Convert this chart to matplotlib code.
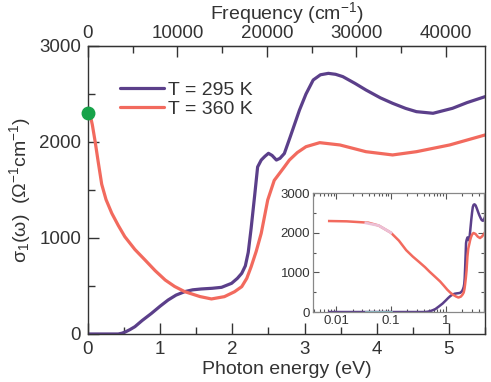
import numpy as np
import matplotlib
matplotlib.use("Agg")
import matplotlib.pyplot as plt
from matplotlib.ticker import MultipleLocator, FixedLocator, NullFormatter, LogLocator

plt.rcParams['font.family'] = ['Liberation Sans', 'DejaVu Sans']
plt.rcParams['mathtext.fontset'] = 'custom'
plt.rcParams['mathtext.rm'] = 'Liberation Sans'
plt.rcParams['mathtext.it'] = 'Liberation Sans'
plt.rcParams['mathtext.default'] = 'regular'
plt.rcParams['text.color'] = '#333333'
plt.rcParams['axes.labelcolor'] = '#333333'
plt.rcParams['xtick.labelcolor'] = '#333333'
plt.rcParams['ytick.labelcolor'] = '#333333'

# ---- data ----
e_360 = [0.0075, 0.0157, 0.039, 0.06, 0.1, 0.14, 0.19, 0.25, 0.33, 0.42, 0.51, 0.65, 0.79,
         0.93, 1.07, 1.2, 1.34, 1.55, 1.71, 1.89, 2.03, 2.13, 2.2, 2.26, 2.33, 2.40, 2.49,
         2.58, 2.72, 2.79, 2.9, 3.02, 3.21, 3.49, 3.85, 4.22, 4.55, 5.01, 5.5]
s_360 = [2294, 2286, 2252, 2180, 2000, 1800, 1560, 1400, 1257, 1130, 1014, 880, 771,
         660, 562, 495, 441, 390, 365, 389, 440, 493, 580, 700, 860, 1049, 1396,
         1600, 1740, 1812, 1890, 1951, 1993, 1969, 1899, 1865, 1899, 1969, 2073]

e_295 = [0.0075, 0.1, 0.42, 0.47, 0.52, 0.58, 0.65, 0.75, 0.88, 1.0, 1.11, 1.22, 1.34, 1.45, 1.57,
         1.72, 1.85, 1.99, 2.07, 2.13, 2.18, 2.22, 2.26, 2.31, 2.35, 2.40, 2.45, 2.50, 2.55,
         2.61, 2.66, 2.72, 2.80, 2.93, 3.02, 3.12, 3.22, 3.33, 3.43, 3.53, 3.70, 3.85, 4.05,
         4.22, 4.40, 4.55, 4.78, 5.05, 5.25, 5.5]
s_295 = [0, 0, 0, 8, 22, 45, 76, 140, 215, 290, 354, 405, 441, 460, 469,
         476, 486, 528, 580, 632, 710, 850, 1100, 1450, 1740, 1812, 1850, 1882, 1860,
         1812, 1830, 1880, 2050, 2333, 2500, 2646, 2700, 2715, 2705, 2681, 2610, 2542, 2460,
         2403, 2350, 2316, 2299, 2351, 2410, 2472]

# extrapolated low-energy stretch drawn in lighter colours in the inset
gap_e = [0.035, 0.06, 0.1]
gap_360 = [2245, 2180, 2000]
gap_295 = [0, 0, 0]

dc_sigma = 2300  # DC point

labels = ['T = 295 K', 'T = 360 K']
c295 = '#5b3f8a'
c360 = '#f26a5e'
EV_TO_CM = 8065.54

fig = plt.figure(figsize=(4.91, 3.82), dpi=100)
ax = fig.add_axes([0.1792, 0.1257, 0.8086, 0.7539])

ax.plot(e_295, s_295, color=c295, lw=2.3, label=labels[0], solid_capstyle='round')
ax.plot(e_360, s_360, color=c360, lw=2.3, label=labels[1], solid_capstyle='round')
ax.plot([0], [dc_sigma], 'o', color='#17a34a', ms=9, clip_on=False, zorder=5)

ax.set_xlim(0, 5.5)
ax.set_ylim(0, 3000)
ax.xaxis.set_major_locator(MultipleLocator(1))
ax.xaxis.set_minor_locator(MultipleLocator(0.5))
ax.yaxis.set_major_locator(MultipleLocator(1000))
ax.yaxis.set_minor_locator(MultipleLocator(500))
ax.tick_params(which='both', direction='in', labelsize=13.5, color='#333333', width=1,
               right=False, top=False)
ax.tick_params(which='major', length=8, pad=5)
ax.tick_params(which='minor', length=5)
for s in ax.spines.values():
    s.set_color('#333333')
    s.set_linewidth(1)
ax.set_xlabel('Photon energy (eV)', fontsize=14, labelpad=2)
ax.set_ylabel(r'$\sigma_1(\omega)$  ($\Omega^{-1}$cm$^{-1}$)', fontsize=14, labelpad=4)

top = ax.secondary_xaxis('top', functions=(lambda x: x * EV_TO_CM, lambda x: x / EV_TO_CM))
top.xaxis.set_major_locator(FixedLocator([0, 10000, 20000, 30000, 40000]))
top.xaxis.set_minor_locator(FixedLocator([5000, 15000, 25000, 35000, 45000]))
top.tick_params(which='both', direction='in', labelsize=13.5, color='#333333', width=1)
top.tick_params(which='major', length=8, pad=3)
top.tick_params(which='minor', length=5)
top.set_xlabel('Frequency (cm$^{-1}$)', fontsize=14, labelpad=4)

ax.legend(loc='upper left', bbox_to_anchor=(0.06, 0.905), frameon=False, fontsize=14,
          handlelength=2.3, handletextpad=0.2, labelspacing=0.1, borderaxespad=0)

# ---- inset ----
ins = fig.add_axes([0.6375, 0.1832, 0.3483, 0.3115])
ins.plot(e_295, s_295, color=c295, lw=1.8)
ins.plot(e_360, s_360, color=c360, lw=1.8)
ins.plot(gap_e, gap_295, color='#8fc3c8', lw=2.0)
ins.plot(gap_e, gap_360, color='#ecc0d6', lw=2.0)
ins.set_xscale('log')
ins.set_xlim(0.0038, 5.0)
ins.set_ylim(0, 3000)
ins.yaxis.set_major_locator(MultipleLocator(1000))
ins.yaxis.set_minor_locator(MultipleLocator(500))
ins.xaxis.set_major_locator(FixedLocator([0.01, 0.1, 1]))
ins.xaxis.set_major_formatter(plt.FuncFormatter(lambda v, p: {0.01: '0.01', 0.1: '0.1', 1: '1'}.get(round(v, 3), '')))
ins.xaxis.set_minor_locator(LogLocator(base=10, subs=np.arange(2, 10)))
ins.xaxis.set_minor_formatter(NullFormatter())
ins.tick_params(which='both', direction='in', top=True, right=True, labelsize=9.5,
                color='#555555', width=0.8, pad=2)
ins.tick_params(which='major', length=4)
ins.tick_params(which='minor', length=2)
for s in ins.spines.values():
    s.set_color('#888888')
    s.set_linewidth(0.9)

fig.savefig('out.png', dpi=100)
